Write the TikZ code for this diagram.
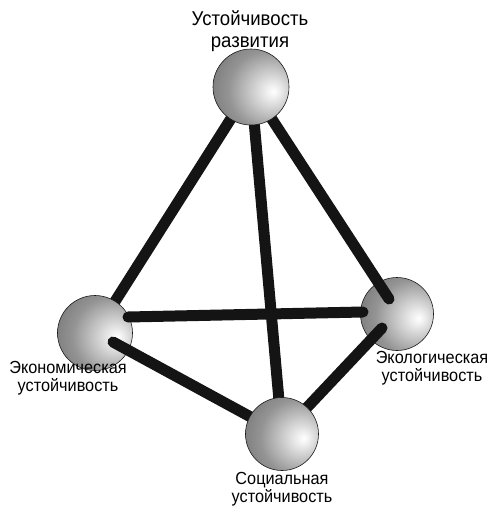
\documentclass[tikz,border=0pt]{standalone}
\usepackage{fontspec}
\setmainfont{Liberation Sans}
\pgfdeclareradialshading{spheresh}{\pgfpoint{15bp}{-3bp}}{%
  color(0bp)=(white);
  color(4bp)=(white!94!black);
  color(26bp)=(white!58!black);
  color(48bp)=(white!40!black);
  color(66bp)=(white!30!black);
  color(100bp)=(white!30!black)}
\tikzset{
  ball/.style={circle, minimum size=75pt, inner sep=0pt, outer sep=0pt,
    shading=spheresh, draw=black!90, line width=0.6pt},
  rod/.style={line width=11pt, line cap=round, draw=black!92},
  lbl/.style={font=\fontsize{17.5}{18.5}\selectfont, align=center, inner sep=0pt,
    xscale=0.93, transform shape},
  toplbl/.style={font=\fontsize{20}{21.5}\selectfont, align=center, inner sep=0pt,
    xscale=0.93, transform shape}
}
\begin{document}
\begin{tikzpicture}[x=1pt,y=-1pt]
\useasboundingbox (0,0) rectangle (490,506);
% centres
\coordinate (T) at (251,87);
\coordinate (L) at (95,333);
\coordinate (R) at (397,314);
\coordinate (B) at (282,434);
% caps of rods lying in front of the side spheres
\coordinate (LR1) at (128,317);
\coordinate (LR2) at (363,312);
\coordinate (LB1) at (113,342);
\coordinate (RB1) at (382,328);
\coordinate (TR2) at (389,299);
% rods behind everything
\draw[rod] (T) -- (L);
\draw[rod] (T) -- (B);
% side spheres
\node[ball] (Lb) at (L) {};
\node[ball, minimum size=73pt] (Rb) at (R) {};
% rods in front of side spheres
\draw[rod] (T) -- (TR2);
\draw[rod] (LR1) -- (LR2);
\draw[rod] (LB1) -- (B);
\draw[rod] (RB1) -- (B);
% top and bottom spheres
\node[ball, minimum size=76pt] (Tb) at (T) {};
\node[ball, minimum size=73pt] (Bb) at (B) {};
% labels
\node[toplbl] (tl) at (250,31) {Устойчивость\\развития};
\node[lbl] (ll) at (68,378) {Экономическая\\устойчивость};
\node[lbl] (rl) at (432,368) {Экологическая\\устойчивость};
\node[lbl] (bl) at (282,489) {Социальная\\устойчивость};
\end{tikzpicture}
\end{document}
